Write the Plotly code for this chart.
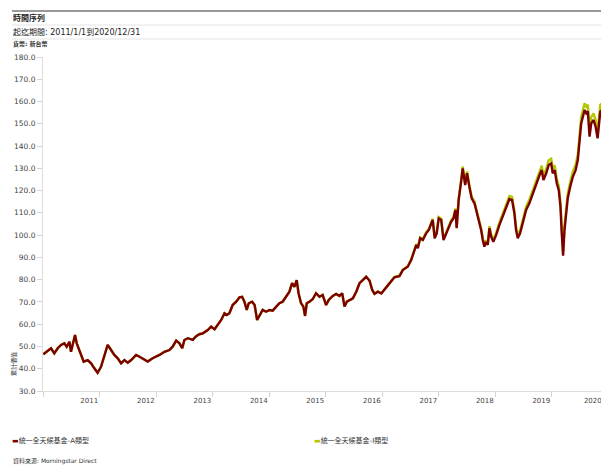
import plotly.graph_objects as go

# ---------------- data ----------------
dates = [
    "2011-01-03", "2011-01-21", "2011-02-22", "2011-03-15", "2011-04-06", "2011-04-28", "2011-05-19",
    "2011-06-03", "2011-06-21", "2011-07-01", "2011-07-12", "2011-07-27", "2011-08-07", "2011-08-24",
    "2011-09-04", "2011-09-21", "2011-10-17", "2011-11-08", "2011-11-29", "2011-12-20",
    "2012-01-11", "2012-02-01", "2012-02-23", "2012-03-16", "2012-04-06", "2012-04-28", "2012-05-20",
    "2012-06-10", "2012-07-02", "2012-07-24", "2012-08-25", "2012-09-16", "2012-10-18", "2012-11-08",
    "2012-12-10",
    "2013-01-02", "2013-01-23", "2013-02-24", "2013-03-28", "2013-04-18", "2013-05-11", "2013-06-01",
    "2013-06-19", "2013-07-03", "2013-07-25", "2013-08-26", "2013-09-17", "2013-10-08", "2013-10-30",
    "2013-12-01", "2013-12-23",
    "2014-01-14", "2014-02-04", "2014-02-26", "2014-03-19", "2014-04-03", "2014-04-20", "2014-05-11",
    "2014-06-03", "2014-06-24", "2014-07-11", "2014-07-26", "2014-08-10", "2014-08-23", "2014-09-14",
    "2014-09-30", "2014-10-16", "2014-10-31", "2014-11-21", "2014-12-13",
    "2015-01-04", "2015-01-25", "2015-02-16", "2015-03-09", "2015-03-30", "2015-04-21", "2015-05-13",
    "2015-05-30", "2015-06-14", "2015-06-29", "2015-07-11", "2015-07-27", "2015-08-11", "2015-08-22",
    "2015-09-02", "2015-09-19", "2015-10-10", "2015-11-01", "2015-11-23", "2015-12-14",
    "2016-01-05", "2016-01-22", "2016-02-17", "2016-03-10", "2016-03-31", "2016-04-18", "2016-05-03",
    "2016-05-18", "2016-06-05", "2016-06-26", "2016-07-18", "2016-08-08", "2016-08-29", "2016-09-20",
    "2016-10-12", "2016-10-29", "2016-11-13", "2016-12-05", "2016-12-27",
    "2017-01-17", "2017-02-14", "2017-03-22", "2017-04-23", "2017-05-15", "2017-06-16", "2017-07-08",
    "2017-07-25", "2017-08-10", "2017-08-20", "2017-09-04", "2017-09-21", "2017-10-13", "2017-10-30",
    "2017-11-14", "2017-11-24", "2017-12-07", "2017-12-20",
    "2018-01-02", "2018-01-18", "2018-02-02", "2018-02-19", "2018-03-08", "2018-03-23", "2018-04-07",
    "2018-04-20", "2018-04-28", "2018-05-11", "2018-05-27", "2018-06-06", "2018-06-22", "2018-07-04",
    "2018-07-19", "2018-08-03", "2018-08-21", "2018-09-01", "2018-09-18", "2018-10-03", "2018-10-14",
    "2018-10-24", "2018-11-04", "2018-11-15", "2018-11-26", "2018-12-07", "2018-12-21",
    "2019-01-08", "2019-01-29", "2019-02-20", "2019-03-14", "2019-04-04", "2019-04-21", "2019-05-06",
    "2019-05-17", "2019-05-28", "2019-06-12", "2019-06-29", "2019-07-21", "2019-08-11", "2019-09-02",
    "2019-09-24", "2019-10-16", "2019-10-30", "2019-11-10", "2019-11-28", "2019-12-14", "2019-12-30",
    "2020-01-09", "2020-01-22", "2020-02-04", "2020-02-17", "2020-02-28", "2020-03-06", "2020-03-16",
    "2020-03-25", "2020-04-05", "2020-04-15", "2020-05-01", "2020-05-18", "2020-06-05", "2020-06-19",
    "2020-07-01", "2020-07-11", "2020-07-22", "2020-08-02", "2020-08-13", "2020-08-23", "2020-09-03",
    "2020-09-14", "2020-09-29", "2020-10-12", "2020-10-25", "2020-11-02", "2020-11-11", "2020-11-20",
]

fund_a = [
    46.5, 47.6, 49.2, 46.9, 49.2, 50.7, 51.4,
    49.9, 52.1, 47.6, 51.4, 55.1, 51.4, 48.4,
    46.9, 43.2, 43.9, 42.4, 40.2, 38.2,
    40.9, 45.4, 50.7, 48.4, 46.2, 44.7, 42.4,
    43.9, 42.7, 43.9, 46.2, 45.4, 44.2, 43.2,
    44.7,
    45.4, 46.2, 47.6, 48.4, 49.9, 52.6, 51.4,
    49.2, 52.9, 53.7, 53.0, 54.6, 55.5, 55.9,
    57.4, 58.9,
    57.7, 59.6, 61.9, 64.9, 64.1, 64.9, 68.6,
    70.1, 72.1, 72.3, 70.1, 66.4, 69.4, 70.1,
    68.6, 61.9, 64.1, 66.4, 65.6,
    66.4, 66.1, 67.9, 69.4, 70.1, 72.3, 74.6,
    78.4, 76.8, 79.8, 73.9, 69.4, 67.9, 63.7,
    69.4, 70.1, 71.2, 73.9, 72.3, 73.1,
    68.6, 70.9, 72.7, 73.6, 72.7, 73.9, 67.9,
    70.1, 70.9, 71.6, 74.6, 78.4, 79.8, 81.3,
    79.5, 75.4, 73.6, 74.6, 73.8,
    75.8, 78.0, 81.1, 81.6, 84.3, 85.8, 88.8,
    92.6, 95.6, 94.1, 98.6, 97.8, 100.8, 102.3,
    105.3, 106.8, 98.6, 100.8,
    107.5, 106.8, 97.8, 100.8, 103.1, 106.0, 107.5,
    111.3, 103.1, 115.8, 124.0, 130.0, 122.5, 127.8,
    121.7, 116.5, 114.3, 111.3, 106.8, 102.3, 97.8,
    94.8, 97.0, 95.6, 103.1, 99.3, 97.0,
    100.0, 104.5, 108.6, 112.8, 116.2, 115.8, 109.8,
    102.3, 98.6, 100.8, 106.0, 111.3, 114.3, 118.7,
    122.5, 127.0, 129.2, 124.7, 127.8, 131.5, 132.2,
    127.8, 129.2, 123.3, 120.2, 112.8, 102.3, 90.8,
    102.3, 111.3, 116.5, 121.7, 126.2, 129.2, 133.7,
    142.7, 150.2, 153.2, 156.2, 154.7, 155.6, 144.2,
    150.2, 151.7, 148.7, 143.5, 150.2, 155.4, 156.0,
]

fund_i = [
    46.5, 47.6, 49.2, 46.9, 49.2, 50.7, 51.4,
    49.9, 52.1, 47.6, 51.4, 55.1, 51.4, 48.4,
    46.9, 43.2, 43.9, 42.4, 40.2, 38.2,
    40.9, 45.4, 50.7, 48.4, 46.2, 44.7, 42.4,
    43.9, 42.7, 43.9, 46.2, 45.4, 44.2, 43.2,
    44.7,
    45.4, 46.2, 47.6, 48.4, 49.9, 52.6, 51.4,
    49.2, 52.9, 53.7, 53.0, 54.6, 55.5, 55.9,
    57.4, 58.9,
    57.7, 59.6, 61.9, 64.9, 64.1, 64.9, 68.6,
    70.1, 72.1, 72.3, 70.1, 66.4, 69.4, 70.1,
    68.6, 61.9, 64.1, 66.4, 65.6,
    66.4, 66.1, 67.9, 69.4, 70.1, 72.3, 74.6,
    78.4, 76.8, 79.8, 73.9, 69.4, 67.9, 63.7,
    69.4, 70.1, 71.2, 73.9, 72.3, 73.1,
    68.6, 70.9, 72.7, 73.6, 72.7, 73.9, 67.9,
    70.1, 70.9, 71.6, 74.6, 78.4, 79.8, 81.4,
    79.6, 75.5, 73.7, 74.7, 73.9,
    75.9, 78.2, 81.3, 81.8, 84.5, 86.1, 89.1,
    92.9, 96.0, 94.5, 99.0, 98.2, 101.3, 102.8,
    105.8, 107.3, 99.1, 101.3,
    108.1, 107.4, 98.3, 101.3, 103.7, 106.6, 108.1,
    112.0, 103.7, 116.5, 124.8, 130.8, 123.3, 128.6,
    122.5, 117.3, 115.1, 112.1, 107.6, 103.1, 98.6,
    95.6, 97.8, 96.4, 104.0, 100.2, 97.9,
    101.0, 105.6, 109.8, 114.1, 117.6, 117.2, 111.1,
    103.6, 99.9, 102.1, 107.4, 112.8, 115.9, 120.4,
    124.3, 128.9, 131.2, 126.6, 129.8, 133.6, 134.3,
    129.9, 131.3, 125.3, 122.2, 114.7, 104.0, 92.4,
    104.1, 113.3, 118.6, 123.9, 128.5, 131.6, 136.2,
    145.4, 153.0, 156.1, 159.2, 157.7, 158.6, 147.0,
    153.1, 154.7, 151.6, 146.4, 153.2, 158.5, 159.1,
]

year_labels = ["2011", "2012", "2013", "2014", "2015", "2016", "2017", "2018", "2019", "2020"]
label_dates = ["2011-10-27", "2012-10-27", "2013-10-27", "2014-10-27", "2015-10-27",
               "2016-10-27", "2017-10-27", "2018-10-27", "2019-10-27", "2020-09-24"]
year_starts = ["2011-01-01", "2012-01-01", "2013-01-01", "2014-01-01", "2015-01-01",
               "2016-01-01", "2017-01-01", "2018-01-01", "2019-01-01", "2020-01-01"]

name_a = "統一全天候基金-A類型"
name_i = "統一全天候基金-I類型"
color_a = "#7d0000"
color_i = "#b2c800"

# ---------------- figure ----------------
W, H = 601, 466
ML, MR, MT, MB = 43, 0, 57, 75
PW, PH = W - ML - MR, H - MT - MB


def px_x(px):
    return (px - ML) / PW


def px_y(py):
    return (H - MB - py) / PH


FONT = "DejaVu Sans, Noto Sans CJK TC, sans-serif"

fig = go.Figure()
fig.add_trace(go.Scatter(x=dates, y=fund_i, mode="lines", name=name_i,
                         line=dict(color=color_i, width=2.4), showlegend=False))
fig.add_trace(go.Scatter(x=dates, y=fund_a, mode="lines", name=name_a,
                         line=dict(color=color_a, width=2.4), showlegend=False))

fig.update_layout(
    width=W, height=H,
    margin=dict(l=ML, r=MR, t=MT, b=MB, pad=0, autoexpand=False),
    paper_bgcolor="white", plot_bgcolor="white",
    font=dict(family=FONT, size=8, color="#333"),
    showlegend=False,
)
fig.update_xaxes(
    type="date", automargin=False,
    range=["2011-01-01", "2020-11-16"],
    tickmode="array", tickvals=label_dates, ticktext=year_labels,
    ticks="", ticklen=0, ticklabelstandoff=3, ticklabeloverflow="allow",
    showgrid=False, zeroline=False,
    showline=True, linecolor="#dddddd", linewidth=1,
    tickfont=dict(size=7, color="#444"),
    minor=dict(tickmode="array", tickvals=year_starts, ticks="outside",
               ticklen=5, tickcolor="#d5d5d5", tickwidth=1, showgrid=False),
)
fig.update_yaxes(
    automargin=False,
    range=[30, 180], tick0=30, dtick=10, tickformat=".1f",
    ticks="outside", ticklen=5, tickcolor="#d5d5d5", tickwidth=1,
    showgrid=False, zeroline=False,
    showline=True, linecolor="#dddddd", linewidth=1,
    tickfont=dict(size=7.5, color="#444"),
)

# header rules
fig.add_shape(type="line", xref="paper", yref="paper", x0=px_x(12), x1=px_x(601),
              y0=px_y(11), y1=px_y(11), line=dict(color="#777", width=1.5))
fig.add_shape(type="line", xref="paper", yref="paper", x0=px_x(12), x1=px_x(601),
              y0=px_y(25), y1=px_y(25), line=dict(color="#e3e3e3", width=1))
fig.add_shape(type="line", xref="paper", yref="paper", x0=px_x(12), x1=px_x(601),
              y0=px_y(39), y1=px_y(39), line=dict(color="#e3e3e3", width=1))


def txt(text, x, y, size, bold=False, color="#333", angle=0, xanchor="left"):
    t = f"<b>{text}</b>" if bold else text
    fig.add_annotation(text=t, xref="paper", yref="paper", x=px_x(x), y=px_y(y),
                       xanchor=xanchor, yanchor="middle", showarrow=False,
                       textangle=angle, font=dict(family=FONT, size=size, color=color))


txt("時間序列", 11, 18, 8, bold=True, color="#222")
txt("起迄期間: 2011/1/1到2020/12/31", 11, 32, 8, color="#222")
txt("貨幣: 新台幣", 11, 44, 6, bold=True, color="#333")
txt("累計價值", 14, 364, 6, color="#333", angle=-90, xanchor="center")

# legend
fig.add_annotation(text=f"<span style='color:{color_a}'>▬</span>{name_a}", xref="paper", yref="paper",
                   x=px_x(10), y=px_y(440), xanchor="left", yanchor="middle", showarrow=False,
                   font=dict(family=FONT, size=7, color="#333"))
fig.add_annotation(text=f"<span style='color:{color_i}'>▬</span>{name_i}", xref="paper", yref="paper",
                   x=px_x(312), y=px_y(440), xanchor="left", yanchor="middle", showarrow=False,
                   font=dict(family=FONT, size=7, color="#333"))

txt("資料來源: Morningstar Direct", 11, 461, 6, color="#333")

fig.write_html("out.html", config={"displayModeBar": False},
               post_script="document.body.style.margin='0';")
